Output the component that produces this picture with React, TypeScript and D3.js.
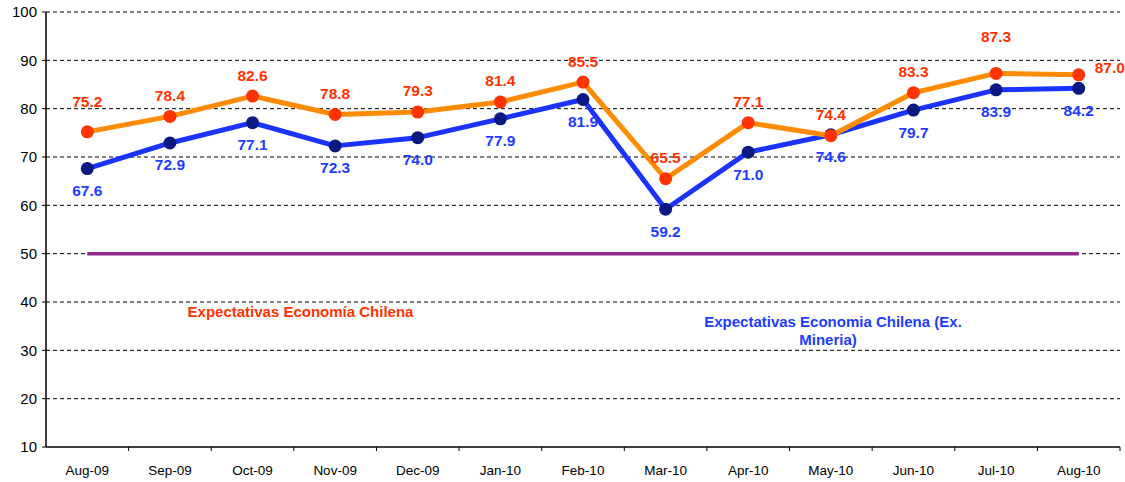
import React from "react";
import * as d3 from "d3";

const categories = ["Aug-09","Sep-09","Oct-09","Nov-09","Dec-09","Jan-10","Feb-10","Mar-10","Apr-10","May-10","Jun-10","Jul-10","Aug-10"];
const chilena = [75.2, 78.4, 82.6, 78.8, 79.3, 81.4, 85.5, 65.5, 77.1, 74.4, 83.3, 87.3, 87.0];
const exMineria = [67.6, 72.9, 77.1, 72.3, 74.0, 77.9, 81.9, 59.2, 71.0, 74.6, 79.7, 83.9, 84.2];
const threshold = 50;
const yTicks = [10, 20, 30, 40, 50, 60, 70, 80, 90, 100];

const W = 1125, H = 482;
const left = 46, right = 1120, top = 12, bottom = 447;

export default function App() {
  const x = d3.scaleBand<string>().domain(categories).range([left, right]);
  const cx = (c: string) => (x(c) as number) + x.bandwidth() / 2;
  const y = d3.scaleLinear().domain([10, 100]).range([bottom, top]);
  const line = d3.line<number>().x((_, i) => cx(categories[i])).y((d) => y(d));
  const font = "'Liberation Sans', Arial, sans-serif";

  // label placement tweaks (pixels)
  const orangeDy = (i: number) => (i === 11 ? -37 : i === 0 ? -30 : i === 12 ? -7 : -21);
  const orangeDx = (i: number) => (i === 12 ? 16 : 0);

  return (
    <svg width={W} height={H} style={{ position: "absolute", left: 0, top: 0 }} fontFamily={font}>
      <rect width={W} height={H} fill="#fff" />
      {yTicks.filter((t) => t > 10).map((t) => (
        <line key={t} x1={left} x2={right} y1={y(t)} y2={y(t)} stroke="#000" strokeWidth={1} strokeDasharray="4,3" />
      ))}
      {/* axes */}
      <line x1={left} x2={left} y1={top} y2={bottom} stroke="#000" strokeWidth={1.5} />
      <line x1={left} x2={right} y1={bottom} y2={bottom} stroke="#000" strokeWidth={1.5} />
      {yTicks.map((t) => (
        <g key={t}>
          <line x1={left - 4} x2={left} y1={y(t)} y2={y(t)} stroke="#000" strokeWidth={1} />
          <text x={left - 9} y={y(t)} dy="0.35em" textAnchor="end" fontSize={15} fill="#000">{t}</text>
        </g>
      ))}
      {categories.map((c) => (
        <line key={"tk" + c} x1={(x(c) as number) + x.bandwidth()} x2={(x(c) as number) + x.bandwidth()} y1={bottom} y2={bottom + 4} stroke="#000" strokeWidth={1} />
      ))}
      {categories.map((c) => (
        <text key={"xl" + c} x={cx(c)} y={475} textAnchor="middle" fontSize={13.5} fill="#000">{c}</text>
      ))}
      {/* threshold */}
      <line x1={cx(categories[0])} x2={cx(categories[categories.length - 1])} y1={y(threshold)} y2={y(threshold)} stroke="#93278F" strokeWidth={3.5} />
      {/* blue series */}
      <path d={line(exMineria) || ""} fill="none" stroke="#1A33FF" strokeWidth={5} strokeLinejoin="round" />
      {exMineria.map((v, i) => (
        <circle key={"bm" + i} cx={cx(categories[i])} cy={y(v)} r={6.5} fill="#0A1A80" />
      ))}
      {/* orange series */}
      <path d={line(chilena) || ""} fill="none" stroke="#FF8C00" strokeWidth={5} strokeLinejoin="round" />
      {chilena.map((v, i) => (
        <circle key={"om" + i} cx={cx(categories[i])} cy={y(v)} r={6.5} fill="#FF3300" />
      ))}
      {/* labels */}
      {chilena.map((v, i) => (
        <text key={"ol" + i} x={cx(categories[i]) + orangeDx(i)} y={y(v) + orangeDy(i)} textAnchor={i === 12 ? "start" : "middle"} dy="0.35em" fontSize={15.5} fontWeight="bold" fill="#FF3300">{v.toFixed(1)}</text>
      ))}
      {exMineria.map((v, i) => (
        <text key={"bl" + i} x={cx(categories[i])} y={y(v) + 22} textAnchor="middle" dy="0.35em" fontSize={15.5} fontWeight="bold" fill="#1E3CFF">{v.toFixed(1)}</text>
      ))}
      <text x={300.5} y={311.5} dy="0.35em" textAnchor="middle" fontSize={15} fontWeight="bold" fill="#FF3300">Expectativas Economía Chilena</text>
      <text x={833} y={322} dy="0.35em" textAnchor="middle" fontSize={15} fontWeight="bold" fill="#1E3CFF">Expectativas Economia Chilena (Ex.</text>
      <text x={828} y={340} dy="0.35em" textAnchor="middle" fontSize={15} fontWeight="bold" fill="#1E3CFF">Mineria)</text>
    </svg>
  );
}
